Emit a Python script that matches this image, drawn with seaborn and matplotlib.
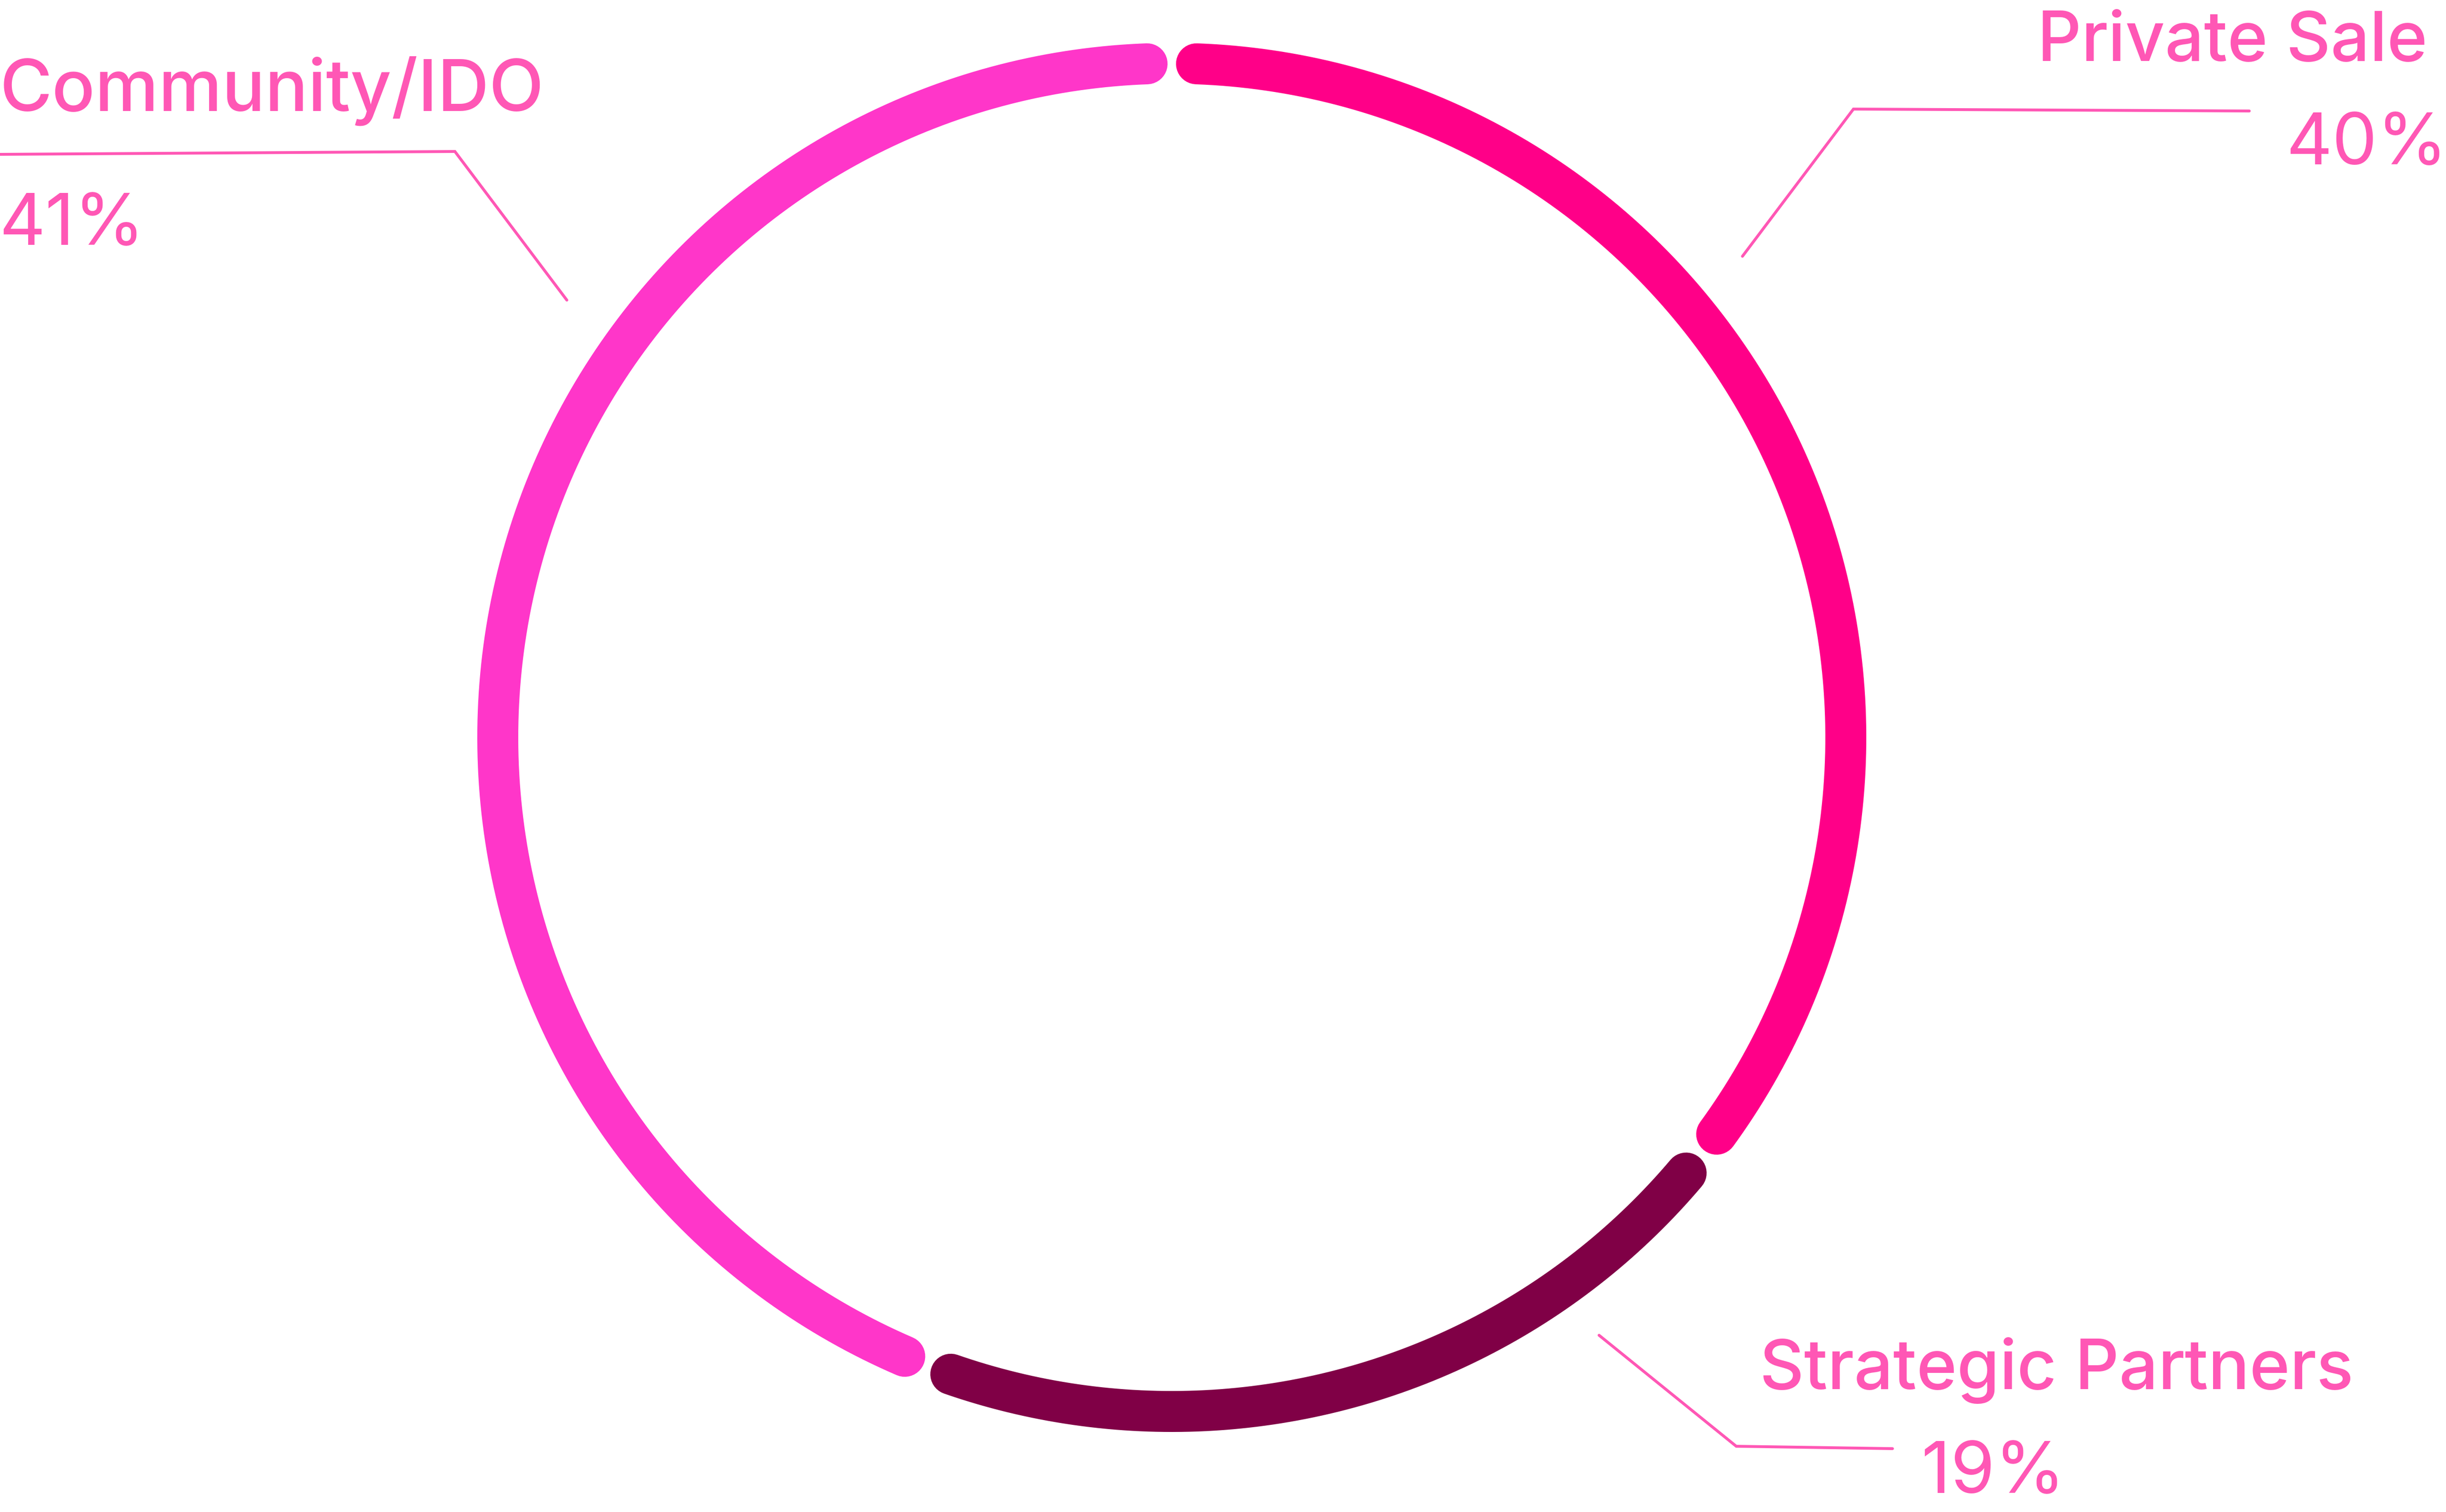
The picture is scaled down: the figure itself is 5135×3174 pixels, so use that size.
import numpy as np
import pandas as pd
import matplotlib
matplotlib.use("Agg")
import matplotlib.pyplot as plt
import seaborn as sns

# ---- data ----
categories = ["Private Sale", "Strategic Partners", "Community/IDO"]
pct_labels = ["40%", "19%", "41%"]
arc_shares = [35.6, 20.3, 44.1]          # share of the ring each arc covers
colors = ["#FF0088", "#800046", "#FF36C9"]

# ---- layout (pixel coordinates) ----
W, H, DPI = 5135, 3174, 100
cx, cy, R = 2460, 1548, 1415
ring_px = 86
gap_deg = 2.1
text_color = "#FF57B5"

sns.set_theme(style="white")
plt.rcParams['font.family'] = ['Inter', 'DejaVu Sans']

fig = plt.figure(figsize=(W / DPI, H / DPI), dpi=DPI)
ax = fig.add_axes([0, 0, 1, 1])

rows = []
start = 90.0
for cat, share in zip(categories, arc_shares):
    span = share / 100 * 360
    th = np.radians(np.linspace(start - gap_deg, start - span + gap_deg, 800))
    for t in th:
        rows.append((cat, cx + R * np.cos(t), cy - R * np.sin(t)))
    start -= span
df = pd.DataFrame(rows, columns=["segment", "x", "y"])

sns.lineplot(data=df, x="x", y="y", hue="segment",
             palette=dict(zip(categories, colors)), sort=False,
             estimator=None, lw=ring_px * 72 / DPI, solid_capstyle="round",
             legend=False, ax=ax)

# leader lines
leaders = {
    "Private Sale": [(4722, 233), (3891, 229), (3658, 538)],
    "Strategic Partners": [(3357, 2803), (3645, 3036), (3973, 3041)],
    "Community/IDO": [(0, 324), (955, 318), (1190, 630)],
}
for cat in categories:
    pts = np.array(leaders[cat])
    ax.plot(pts[:, 0], pts[:, 1], color=text_color, lw=6 * 72 / DPI,
            solid_joinstyle="miter")

# labels
label_pos = {
    "Private Sale": dict(xy=(5096, 128), ha="right", size=104),
    "Strategic Partners": dict(xy=(3694, 2916), ha="left", size=104),
    "Community/IDO": dict(xy=(0, 233), ha="left", size=108),
}
pct_pos = {
    "Private Sale": dict(xy=(5138, 345), ha="right"),
    "Strategic Partners": dict(xy=(4034, 3134), ha="left"),
    "Community/IDO": dict(xy=(-2, 514), ha="left"),
}
for cat, pct in zip(categories, pct_labels):
    lp = label_pos[cat]
    ax.text(lp["xy"][0], lp["xy"][1], cat, ha=lp["ha"], va="baseline",
            fontsize=lp["size"], fontweight="medium", color=text_color)
    pp = pct_pos[cat]
    ax.text(pp["xy"][0], pp["xy"][1], pct, ha=pp["ha"], va="baseline",
            fontsize=108, fontweight="normal", color=text_color)

ax.set_xlim(0, W)
ax.set_ylim(H, 0)
ax.axis("off")
fig.savefig("out.png", dpi=DPI, facecolor="white")
